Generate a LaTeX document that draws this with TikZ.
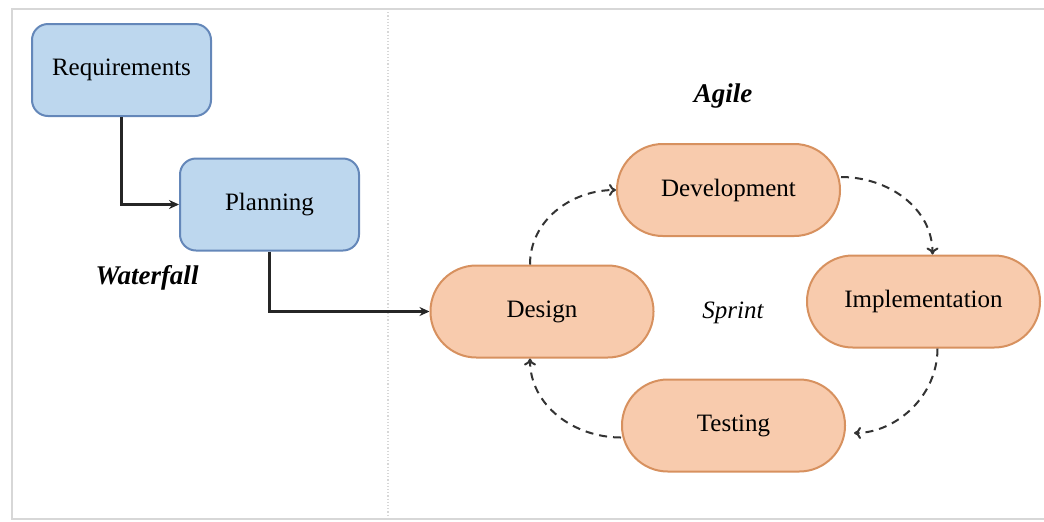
\documentclass[tikz,border=0pt]{standalone}
\usepackage{fontspec}
\setmainfont{Liberation Serif}
\usepackage{tikz}
\usetikzlibrary{calc}
\usetikzlibrary{arrows.meta}

\definecolor{wfblue}{RGB}{189,215,238}
\definecolor{wfline}{RGB}{100,135,185}
\definecolor{agorange}{RGB}{248,203,173}
\definecolor{agline}{RGB}{215,145,95}
\definecolor{framegray}{RGB}{215,215,215}

\tikzset{
    wfbox/.style={draw=wfline, fill=wfblue, line width=1pt, rounded corners=8pt,
        minimum width=89.5pt, minimum height=46pt, font=\fontsize{12.5}{14}\selectfont},
    agbox/.style={draw=agline, fill=agorange, line width=1pt, rounded corners=22.9pt,
        minimum width=111.5pt, minimum height=46pt, font=\fontsize{12.5}{14}\selectfont},
    flow/.style={draw=black!85, line width=1.1pt, -{Stealth[length=5pt,width=4.5pt]}},
    loop/.style={draw=black!80, line width=1pt, dash pattern=on 4pt off 3pt,
        -{To[length=3.5pt,width=6pt]}}
}

\begin{document}
\begin{tikzpicture}[x=0.5pt,y=-0.5pt]
        \useasboundingbox (0,0) rectangle (1044,521);
        % frame
        \draw[framegray, line width=0.6pt] (1044,9) -- (12,9) -- (12,519) -- (1044,519);
        \draw[framegray, line width=0.6pt, densely dotted] (388,9) -- (388,519);

        % waterfall side
        \node[wfbox] (req) at (121.5,70) {Requirements};
        \node[wfbox] (plan) at (269.5,204.5) {Planning};
        \node[font=\fontsize{13.5}{15}\selectfont\bfseries\itshape] (waterfall) at (147,278) {Waterfall};

        % agile side
        \node[font=\fontsize{13.5}{15}\selectfont\bfseries\itshape] (agile) at (723,96) {Agile};
        \node[agbox] (design) at (542,311.5) {Design};
        \node[agbox] (dev) at (728.5,190) {Development};
        \node[agbox, minimum width=116.5pt] (impl) at (923.5,301.5) {Implementation};
        \node[agbox] (test) at (733.5,425.5) {Testing};
        \node[font=\fontsize{12.5}{14}\selectfont\itshape] (sprint) at (733,313) {Sprint};

        % solid connectors
        \draw[flow] (req.south) |- (plan.west);
        \draw[flow] (plan.south) |- (design.west);

        % sprint loop
        \draw[loop] ([xshift=-6pt]design.north) to[out=90,in=180] (dev.west);
        \draw[loop] ([yshift=6.5pt]dev.east) to[out=0,in=90] ([xshift=4.5pt]impl.north);
        \draw[loop, shorten >=4pt] ([xshift=7pt]impl.south) to[out=-90,in=0] ([yshift=-3.75pt]test.east);
        \draw[loop] ([yshift=-6pt]test.west) to[out=180,in=-90] ([xshift=-6pt]design.south);
    \end{tikzpicture}
\end{document}
